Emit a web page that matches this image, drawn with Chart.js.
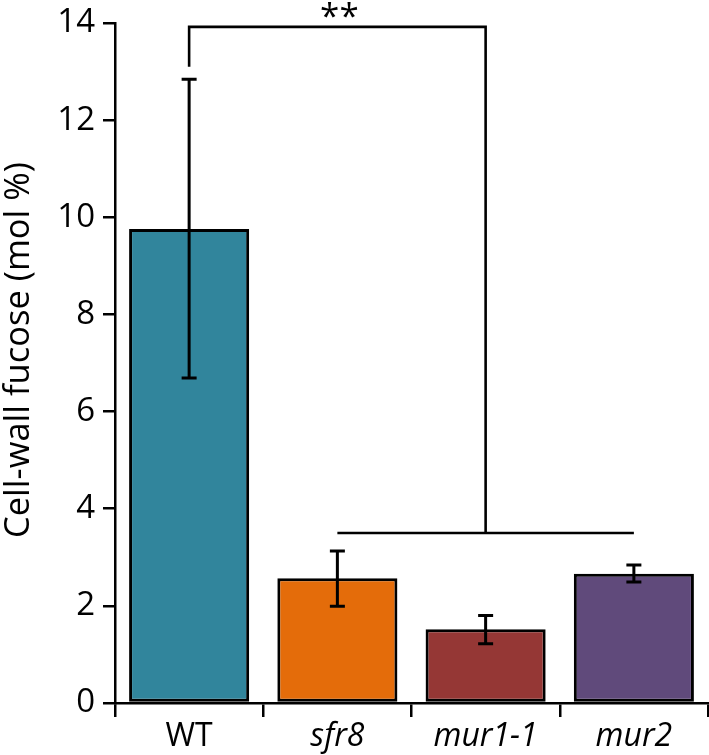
<!DOCTYPE html>
<html>
<head>
<meta charset="utf-8">
<script src="https://cdn.jsdelivr.net/npm/chart.js@4/dist/chart.umd.min.js"></script>
<style>
  html, body { margin: 0; padding: 0; background: #ffffff; }
  #wrap { width: 709px; height: 755px; }
</style>
</head>
<body>
<div id="wrap"><canvas id="c" width="709" height="755"></canvas></div>
<script>
// ---- data ----
const categories = ['WT', 'sfr8', 'mur1-1', 'mur2'];
const means      = [9.76, 2.57, 1.52, 2.66];
const errLower   = [6.69, 1.99, 1.22, 2.49];
const errUpper   = [12.84, 3.13, 1.80, 2.84];
const barColors  = ['#31859C', '#E46C0A', '#953735', '#604A7B'];
const yTitle     = 'Cell-wall fucose (mol %)';
const yMin = 0, yMax = 14, yStep = 2;
// significance bracket: WT vs. mutants
const sigLabel       = '**';
const sigTop         = 13.92;
const sigLeftEnd     = 13.1;
const sigGroupLevel  = 3.5;
const sigGroupFrom   = 1;   // sfr8
const sigGroupTo     = 3;   // mur2
const sigGroupMid    = 2;   // mur1-1

const FONT = '"Open Sans", "DejaVu Sans", sans-serif';

const overlay = {
  id: 'overlay',
  afterDatasetsDraw(chart) {
    const ctx = chart.ctx;
    const x = chart.scales.x, y = chart.scales.y;
    ctx.save();
    ctx.strokeStyle = '#000';
    ctx.lineWidth = 3;
    ctx.lineCap = 'butt';
    // error bars
    for (let i = 0; i < categories.length; i++) {
      const cx = x.getPixelForValue(i);
      const yl = y.getPixelForValue(errLower[i]);
      const yh = y.getPixelForValue(errUpper[i]);
      ctx.beginPath();
      ctx.moveTo(cx, yl); ctx.lineTo(cx, yh);
      ctx.moveTo(cx - 7.5, yl); ctx.lineTo(cx + 7.5, yl);
      ctx.moveTo(cx - 7.5, yh); ctx.lineTo(cx + 7.5, yh);
      ctx.stroke();
    }
    // significance bracket
    const xl = x.getPixelForValue(0);
    const xr = x.getPixelForValue(sigGroupMid);
    const yt = y.getPixelForValue(sigTop);
    const yle = y.getPixelForValue(sigLeftEnd);
    const yg = y.getPixelForValue(sigGroupLevel);
    ctx.lineWidth = 2.6;
    ctx.beginPath();
    ctx.moveTo(xl, yle); ctx.lineTo(xl, yt); ctx.lineTo(xr, yt); ctx.lineTo(xr, yg);
    ctx.moveTo(x.getPixelForValue(sigGroupFrom), yg);
    ctx.lineTo(x.getPixelForValue(sigGroupTo), yg);
    ctx.stroke();
    ctx.fillStyle = '#000';
    ctx.font = '35px ' + FONT;
    ctx.textAlign = 'center';
    ctx.textBaseline = 'alphabetic';
    ctx.fillText(sigLabel, (xl + xr) / 2 + 2, yt + 1);
    // y-axis title
    ctx.translate(29, 350);
    ctx.rotate(-Math.PI / 2);
    ctx.font = '34.5px ' + FONT;
    ctx.fillText(yTitle, 0, 0);
    ctx.restore();
  }
};

new Chart(document.getElementById('c'), {
  type: 'bar',
  data: {
    labels: categories,
    datasets: [{
      data: means,
      backgroundColor: barColors,
      borderColor: '#000',
      borderWidth: 3,
      borderSkipped: false,
      barPercentage: 0.81,
      categoryPercentage: 1.0
    }]
  },
  options: {
    responsive: false,
    animation: false,
    devicePixelRatio: 1,
    layout: { padding: { top: 23, right: 1, left: 0, bottom: 0 } },
    plugins: { legend: { display: false }, tooltip: { enabled: false } },
    scales: {
      x: {
        offset: true,
        grid: { offset: true, drawOnChartArea: false, drawTicks: true, tickLength: 14, color: '#000', lineWidth: 2.5 },
        border: { display: true, color: '#000', width: 2.5 },
        ticks: {
          color: '#000',
          padding: 1,
          font: (c) => ({ family: FONT, size: 32, style: c.index === 0 ? 'normal' : 'italic' })
        },
        afterFit(s) { s.height = 52; s.paddingLeft = 0; s.paddingRight = 0; }
      },
      y: {
        min: yMin, max: yMax,
        grid: { drawOnChartArea: false, drawTicks: true, tickLength: 12, color: '#000', lineWidth: 2.5 },
        border: { display: true, color: '#000', width: 2.5 },
        ticks: { stepSize: yStep, color: '#000', padding: 8, font: { family: FONT, size: 33 } },
        title: { display: false },
        afterFit(s) { s.width = 115; s.paddingTop = 0; s.paddingBottom = 0; }
      }
    }
  },
  plugins: [overlay]
});
</script>
</body>
</html>
